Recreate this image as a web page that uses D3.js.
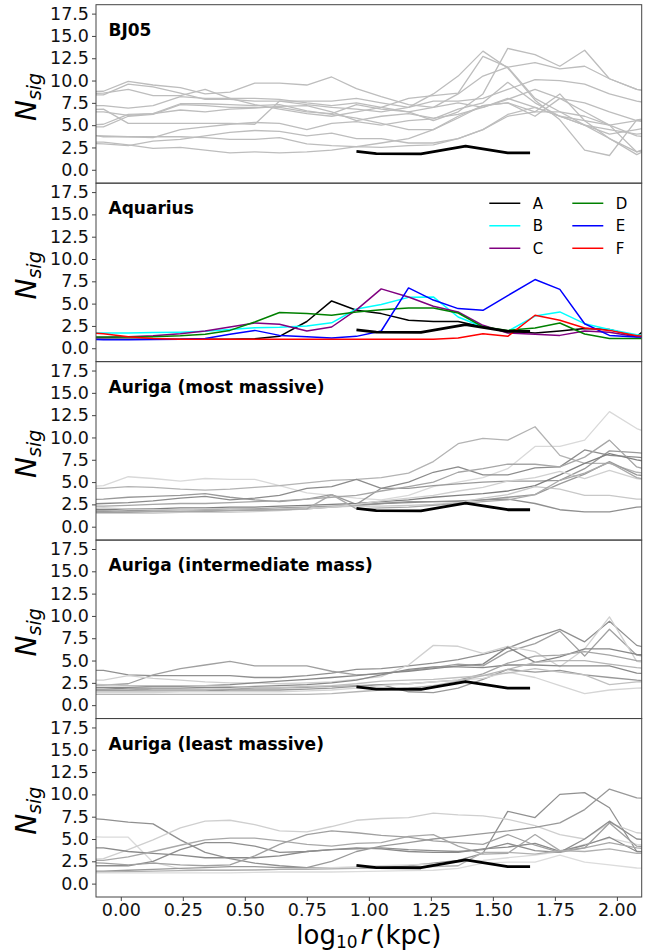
<!DOCTYPE html>
<html><head><meta charset="utf-8">
<script src="https://cdn.jsdelivr.net/npm/d3@7"></script>
<style>body{margin:0;background:#fff}svg{display:block}text{font-family:"DejaVu Sans",sans-serif}</style>
</head><body><svg id="c" width="657" height="952"></svg>
<script>
// ---------------- data ----------------
const xGrid = [-0.17,-0.07,0.03,0.13,0.24,0.34,0.44,0.54,0.64,0.75,0.85,0.95,1.05,1.16,1.26,1.36,1.46,1.56,1.67,1.77,1.87,1.97,2.08,2.18];
const refX = [0.95,1.03,1.21,1.39,1.56,1.65];
const refY = [2.05,1.8,1.78,2.65,1.9,1.9];
const yTicks = [0,2.5,5,7.5,10,12.5,15,17.5];
const xTicks = [0,0.25,0.5,0.75,1,1.25,1.5,1.75,2];
const panelTitles = ["BJ05","Aquarius","Auriga (most massive)","Auriga (intermediate mass)","Auriga (least massive)"];

const bj05 = [
 [8.7,8.8,9.9,9.5,9.2,8.5,8.7,9.7,9.7,9.5,10.4,9.1,8.2,7.3,7.0,8.5,10.5,11.5,12.0,11.3,11.6,10.2,9.0,8.5],
 [8.5,8.6,9.0,8.3,8.3,9.0,8.0,8.0,7.9,7.5,7.2,7.5,7.0,6.5,5.5,6.5,8.5,13.6,12.9,11.6,13.4,10.2,9.0,8.7],
 [8.4,8.4,9.6,9.3,8.6,7.9,7.9,7.7,7.7,7.3,7.0,6.8,6.5,7.0,8.5,10.5,13.3,11.4,7.8,5.6,2.2,1.6,5.6,6.0],
 [7.2,7.2,6.9,7.2,8.2,8.0,8.0,7.3,6.8,6.3,6.0,6.5,7.0,8.0,8.3,8.6,12.7,11.5,8.0,6.5,5.0,3.5,2.0,3.0],
 [6.7,6.8,5.2,5.2,5.2,5.2,5.2,5.1,7.7,7.7,7.7,8.0,7.5,7.0,7.7,7.7,8.0,9.0,10.1,10.0,9.6,8.5,7.7,7.2],
 [4.8,4.8,6.0,6.2,7.3,7.2,7.0,7.0,7.0,6.5,6.3,7.3,6.8,6.5,7.0,7.5,7.0,7.9,9.0,8.0,7.5,6.5,5.5,5.0],
 [6.5,6.5,6.1,6.3,6.7,6.5,6.8,6.9,7.1,7.2,6.5,5.5,6.0,6.3,5.8,6.2,7.0,8.0,7.0,6.0,5.0,4.5,4.0,4.2],
 [5.0,5.1,6.2,6.3,7.4,7.4,7.3,7.2,7.3,6.6,6.2,5.8,5.2,4.5,4.5,5.8,7.2,7.5,6.0,8.0,6.5,5.0,3.8,3.5],
 [4.1,3.7,3.7,3.7,3.7,3.6,3.4,3.4,3.6,2.9,2.7,2.6,3.0,3.5,4.5,6.0,7.2,7.5,6.5,8.5,5.5,3.5,1.7,3.0],
 [3.9,3.8,3.7,3.6,4.5,4.8,5.1,5.3,5.2,4.5,5.2,5.4,5.0,5.5,5.7,6.8,7.5,9.8,7.5,6.0,5.5,5.0,5.5,5.8],
 [3.0,2.9,2.7,3.2,3.4,3.8,4.2,4.4,4.3,3.8,4.1,3.5,3.5,3.0,3.0,3.5,4.5,6.0,6.5,6.5,6.0,5.0,2.0,2.5],
 [3.1,3.1,2.8,2.4,2.5,2.2,1.9,2.0,1.9,2.0,2.2,2.6,2.5,2.7,2.8,3.5,4.5,6.2,7.0,6.0,5.0,4.0,4.5,5.0]
];

const aqNames = ["A","B","C","D","E","F"];
const aqA = [1.0,1.0,1.0,1.0,1.0,1.0,1.0,1.05,1.33,3.0,5.3,4.25,3.88,3.13,3.0,3.0,2.38,1.9,1.7,1.93,2.2,2.1,1.33,3.5];
const aqB = [1.7,1.7,1.72,1.75,1.8,1.9,2.1,2.3,2.35,2.5,2.85,4.4,4.9,5.7,5.75,3.5,2.38,1.9,3.6,4.07,2.75,2.1,1.5,1.3];
const aqC = [1.2,1.2,1.3,1.4,1.63,1.93,2.38,2.83,2.68,1.93,2.38,4.3,6.65,5.75,4.7,4.07,2.57,1.7,1.56,1.44,1.93,1.8,1.3,1.2];
const aqD = [1.3,1.26,1.26,1.3,1.4,1.56,2.0,2.94,4.0,3.88,3.7,4.07,4.3,4.5,4.5,3.95,2.4,2.0,2.27,2.83,1.6,1.1,1.1,1.1];
const aqE = [1.0,0.96,0.96,0.98,1.0,1.1,1.56,2.0,1.44,1.3,1.14,1.33,1.93,6.76,5.4,4.44,4.25,5.9,7.7,6.6,2.75,1.44,1.26,1.2];
const aqF = [1.8,1.63,1.3,1.1,1.0,1.0,1.0,1.0,1.0,1.0,1.0,1.0,1.0,1.0,1.0,1.15,1.63,1.33,3.7,3.13,2.27,2.0,1.4,1.2];

const aurigaMost = [
 [4.4,4.6,5.6,5.4,5.1,5.4,5.3,5.3,4.6,3.8,3.5,3.2,3.0,3.5,4.5,5.0,5.5,6.5,9.0,9.0,9.7,12.9,11.0,10.0],
 [4.3,4.3,4.5,4.4,4.2,4.1,4.2,4.4,4.6,4.9,5.2,5.3,5.5,6.0,7.3,9.3,9.9,9.7,11.2,8.0,7.1,7.1,6.1,5.8],
 [3.0,3.1,3.3,3.4,3.5,3.7,3.3,3.0,2.8,3.1,3.6,2.5,4.3,4.3,4.6,4.8,5.0,5.1,5.1,5.2,6.5,8.5,8.3,8.0],
 [2.5,2.6,2.7,2.9,3.2,3.4,3.0,3.2,3.5,4.3,4.5,5.3,4.3,5.0,6.1,6.7,5.8,5.8,6.6,6.7,8.6,8.0,7.8,7.5],
 [2.3,2.3,2.4,2.5,2.6,2.6,2.7,2.8,2.9,3.1,3.3,3.5,4.0,4.5,5.0,6.1,6.5,7.0,7.0,6.7,7.8,9.7,6.7,6.0],
 [1.9,1.9,2.0,2.0,2.1,2.1,2.2,2.2,2.3,2.4,2.5,2.6,2.8,3.0,3.3,3.5,3.7,4.0,4.6,5.8,7.1,8.2,7.5,7.0],
 [1.7,1.7,1.8,1.8,1.9,1.9,2.0,2.0,2.1,2.2,2.3,2.4,2.6,2.8,2.8,2.8,3.0,3.3,3.6,4.8,5.9,7.3,5.8,5.5],
 [1.6,1.6,1.6,1.7,1.7,1.7,1.8,1.8,1.9,2.0,2.2,2.4,2.6,2.7,2.8,2.9,3.0,3.1,2.6,1.9,1.65,1.65,2.2,2.3],
 [1.5,1.5,1.5,1.5,1.6,1.6,1.6,1.7,1.8,2.0,2.2,2.5,2.9,3.2,3.5,4.0,4.4,5.1,5.5,6.2,5.4,6.3,5.4,5.0],
 [2.0,2.1,2.0,1.9,1.9,2.0,2.0,1.9,2.0,2.1,2.2,2.3,2.3,2.4,2.5,2.7,3.2,3.6,4.5,4.2,3.5,3.5,3.1,3.0],
 [1.8,1.8,1.7,1.7,1.7,1.8,1.8,1.9,1.9,2.0,3.6,2.0,2.1,2.2,2.4,2.6,2.8,3.0,3.6,5.2,6.0,7.2,5.5,5.0]
];
const aurigaInter = [
 [3.9,3.9,3.4,3.3,3.3,3.3,3.3,3.1,3.1,3.3,3.6,4.0,4.1,4.4,4.7,5.1,5.7,6.4,7.6,8.5,7.1,9.4,6.7,6.0],
 [2.2,2.25,2.4,3.4,4.1,4.5,4.9,4.4,4.4,4.4,3.8,3.4,3.5,3.9,4.2,4.6,4.4,6.0,6.9,8.3,5.5,8.5,5.6,5.3],
 [2.8,2.8,3.3,3.0,2.8,2.6,2.5,2.5,2.4,2.5,2.6,2.9,3.2,4.5,6.7,6.6,5.8,6.6,6.0,4.3,6.3,9.9,4.9,4.5],
 [2.0,2.0,2.0,2.1,2.1,2.2,2.3,2.5,2.7,2.9,3.1,3.3,3.6,3.8,4.1,4.4,4.6,6.5,4.8,5.4,6.3,6.3,5.7,5.5],
 [1.8,1.8,1.9,1.9,1.9,2.0,2.0,2.1,2.2,2.3,2.5,2.8,3.4,4.0,4.3,4.3,4.2,4.5,4.5,4.4,4.4,4.4,3.6,3.4],
 [1.7,1.7,1.7,1.8,1.8,1.8,1.8,1.9,1.9,2.0,2.1,2.2,2.3,2.4,2.6,2.8,3.5,4.7,5.5,5.6,6.0,5.6,5.0,4.8],
 [1.6,1.6,1.6,1.6,1.6,1.6,1.7,1.7,1.7,1.8,1.9,2.1,2.3,1.5,1.4,1.9,2.9,4.0,3.7,3.9,3.4,3.1,2.8,2.6],
 [1.4,1.4,1.4,1.4,1.5,1.5,1.5,1.5,1.5,1.6,1.7,1.9,2.2,2.4,2.6,2.8,3.0,3.7,3.1,2.2,1.3,1.7,1.9,2.0],
 [2.4,2.3,2.2,2.2,2.2,2.2,2.1,2.0,2.0,2.1,2.2,2.4,2.7,2.8,2.9,3.1,3.3,3.6,4.1,3.7,3.4,2.3,2.6,2.7],
 [1.2,1.2,1.2,1.2,1.2,1.2,1.2,1.2,1.2,1.2,1.3,1.5,1.7,1.9,2.2,2.7,3.3,4.0,4.8,5.0,5.0,4.6,4.2,4.0]
];
const aurigaLeast = [
 [7.4,7.2,6.9,6.7,4.9,3.5,2.8,2.3,2.0,1.8,1.8,1.7,1.8,2.0,2.3,2.6,3.4,8.1,7.4,10.0,10.2,8.5,3.6,3.5],
 [5.3,5.2,5.2,2.4,1.65,1.5,1.5,1.5,1.6,1.7,1.8,1.9,2.0,2.1,2.2,2.4,2.6,2.9,3.2,3.6,4.4,5.1,4.4,4.2],
 [2.6,2.8,3.8,4.9,6.25,7.0,7.1,6.6,5.9,5.8,6.4,7.1,7.3,7.4,7.9,7.7,7.6,7.2,6.5,5.5,5.0,6.8,5.7,5.5],
 [4.0,4.0,3.6,3.4,3.2,2.9,2.9,2.9,3.1,3.6,3.8,4.0,3.9,3.6,3.5,3.5,3.9,4.1,4.5,3.6,4.3,5.2,3.6,3.5],
 [2.6,2.6,3.0,3.6,4.3,4.9,5.1,5.1,4.8,4.4,4.2,4.5,4.6,5.3,5.5,4.2,3.3,3.4,5.5,3.7,4.0,4.6,4.0,3.8],
 [2.0,2.0,2.0,2.5,3.8,4.6,4.6,4.2,3.5,3.6,3.8,3.9,4.0,3.8,3.7,3.6,3.8,4.5,3.7,3.5,5.0,7.0,5.0,4.8],
 [2.4,2.3,2.1,2.3,2.1,2.0,2.1,3.1,4.4,5.5,5.9,5.7,5.4,5.2,4.8,4.6,4.4,5.5,4.3,3.5,4.0,6.8,4.2,4.0],
 [1.4,1.4,1.5,1.6,1.7,1.8,1.9,1.9,1.8,1.8,2.5,3.6,4.2,4.6,5.0,5.3,5.6,5.9,6.3,6.8,8.3,10.6,9.6,9.5],
 [1.3,1.3,1.35,1.4,1.45,1.5,1.5,1.55,1.6,1.6,1.65,1.7,1.75,1.8,1.9,2.0,3.5,3.5,3.3,3.7,3.6,3.9,3.4,3.3],
 [1.2,1.2,1.2,1.2,1.2,1.2,1.2,1.25,1.3,1.3,1.3,1.35,1.4,1.45,1.5,1.7,2.3,2.4,2.4,3.2,2.4,2.1,1.75,1.7]
];

// ---------------- styles ----------------
const aqColors = ["#000000","#00ffff","#800080","#008000","#0000ff","#ff0000"];
const shadesBJ = bj05.map(() => "#bdbdbd");
const shadesMost = ["#d9d9d9","#b3b3b3","#999999","#8c8c8c","#a6a6a6","#808080","#9a9a9a","#8f8f8f","#d0d0d0","#c8c8c8","#aaaaaa"];
const shadesInter = ["#909090","#a0a0a0","#d0d0d0","#888888","#8a8a8a","#a5a5a5","#999999","#d5d5d5","#c0c0c0","#b5b5b5"];
const shadesLeast = ["#909090","#dadada","#cfcfcf","#8a8a8a","#a8a8a8","#8e8e8e","#a0a0a0","#999999","#b0b0b0","#dcdcdc"];

// ---------------- layout ----------------
const svg = d3.select("#c");
const L = 96, R = 641.7, top0 = 4.7, bot = 897;
const ph = (bot - top0) / 5;
const x = d3.scaleLinear().domain([-0.1, 2.1]).range([L, R]);

const panels = [
  {lines: bj05, colors: shadesBJ, w: 1.3},
  {lines: [aqA,aqB,aqC,aqD,aqE,aqF], colors: aqColors, w: 1.5},
  {lines: aurigaMost, colors: shadesMost, w: 1.3},
  {lines: aurigaInter, colors: shadesInter, w: 1.3},
  {lines: aurigaLeast, colors: shadesLeast, w: 1.3}
];

panels.forEach((p, i) => {
  const t = top0 + i * ph, b = t + ph;
  const y = d3.scaleLinear().domain([-1.5, 18.5]).range([b, t]);
  const g = svg.append("g");
  const cid = "clip" + i;
  g.append("clipPath").attr("id", cid).append("rect")
    .attr("x", L).attr("y", t).attr("width", R - L).attr("height", ph);
  const pg = g.append("g").attr("clip-path", `url(#${cid})`);
  const line = d3.line().x((d, k) => x(xGrid[k])).y(d => y(d));
  p.lines.forEach((arr, k) => {
    pg.append("path").attr("d", line(arr)).attr("fill", "none")
      .attr("stroke", p.colors[k]).attr("stroke-width", p.w).attr("stroke-linejoin", "round");
  });
  // reference
  const rline = d3.line().x((d, k) => x(refX[k])).y(d => y(d));
  pg.append("path").attr("d", rline(refY)).attr("fill", "none")
    .attr("stroke", "#000").attr("stroke-width", 2.8).attr("stroke-linejoin", "round");

  // y axis
  const ya = d3.axisLeft(y).tickValues(yTicks).tickFormat(d3.format(".1f")).tickSize(4).tickPadding(3);
  const yg = g.append("g").attr("transform", `translate(${L},0)`).call(ya);
  yg.select(".domain").remove();
  yg.selectAll("text").attr("font-size", 17.5).attr("fill", "#111").style("font-family", "DejaVu Sans");
  yg.selectAll("line").attr("stroke", "#444");

  // frame
  g.append("rect").attr("x", L).attr("y", t).attr("width", R - L).attr("height", ph)
    .attr("fill", "none").attr("stroke", "#444").attr("stroke-width", 1);

  // title
  g.append("text").attr("x", 108.5).attr("y", t + 31).attr("font-size", 17)
    .attr("font-weight", "bold").attr("fill", "#000").text(panelTitles[i]);

  // y label
  const yl = g.append("text").attr("transform", `translate(36,${t + ph / 2 + 3}) rotate(-90)`)
    .attr("text-anchor", "middle").attr("font-size", 28).attr("font-style", "italic").attr("fill", "#000");
  yl.append("tspan").text("N");
  yl.append("tspan").attr("font-size", 19).attr("dy", 5).text("sig");

  if (i === 1) {
    const lg = g.append("g");
    aqNames.forEach((n, k) => {
      const col = Math.floor(k / 3), row = k % 3;
      const lx = col === 0 ? 489.3 : 572.3;
      const ly = t + 20.1 + row * 22.5;
      lg.append("line").attr("x1", lx).attr("x2", lx + 31).attr("y1", ly).attr("y2", ly)
        .attr("stroke", aqColors[k]).attr("stroke-width", 1.5);
      lg.append("text").attr("x", lx + 43.5).attr("y", ly + 5.5).attr("font-size", 15)
        .attr("fill", "#000").text(n);
    });
  }

  if (i === 4) {
    const xa = d3.axisBottom(x).tickValues(xTicks).tickFormat(d3.format(".2f")).tickSize(4).tickPadding(3);
    const xg = g.append("g").attr("transform", `translate(0,${b})`).call(xa);
    xg.select(".domain").remove();
    xg.selectAll("text").attr("font-size", 17.5).attr("fill", "#111").style("font-family", "DejaVu Sans");
    xg.selectAll("line").attr("stroke", "#444");
  }
});

// x label
const xl = svg.append("text").attr("x", (L + R) / 2).attr("y", 944).attr("text-anchor", "middle")
  .attr("font-size", 26).attr("fill", "#000");
xl.append("tspan").text("log");
xl.append("tspan").attr("font-size", 17).attr("dy", 4).text("10");
xl.append("tspan").attr("dy", -4).attr("dx", 3).attr("font-style", "italic").text("r");
xl.append("tspan").attr("dx", 4).text("(kpc)");
</script></body></html>
